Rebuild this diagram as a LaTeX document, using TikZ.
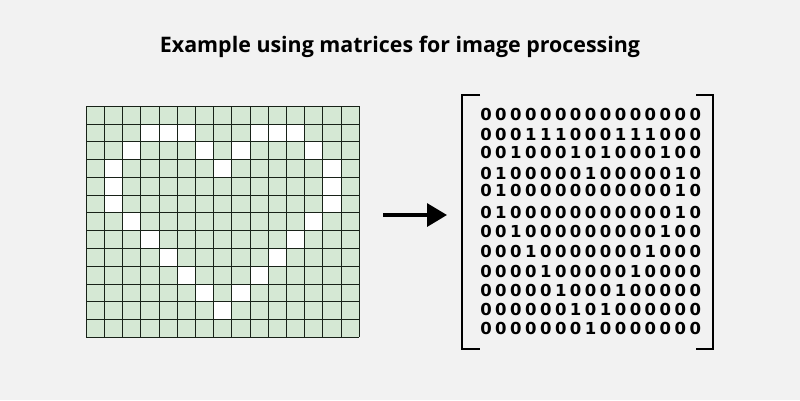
\documentclass[tikz,border=0pt]{standalone}
\usepackage{fontspec}
\setmainfont{Noto Sans}
\newfontfamily\titlefont{Open Sans}
\newfontfamily\digitfont{DejaVu Sans}
\usetikzlibrary{arrows.meta}
\definecolor{bg}{RGB}{242,242,242}
\definecolor{cellgreen}{RGB}{213,232,212}
\definecolor{gridline}{RGB}{24,34,24}
\tikzset{
  titletext/.style={font=\titlefont\fontsize{21.4}{25}\selectfont\bfseries, text=black, inner sep=0pt},
  digit/.style={font=\digitfont\fontsize{16.5}{16.5}\selectfont\bfseries, text=black, inner sep=0pt},
  gridstroke/.style={draw=gridline, line width=1pt},
  bracketstroke/.style={draw=black, line width=2pt},
  bigarrow/.style={draw=black, line width=3.3pt, -{Triangle[length=20pt,width=23pt]}}
}
\begin{document}
\begin{tikzpicture}[x=1pt,y=-1pt]
\fill[bg] (0,0) rectangle (800,400);
\useasboundingbox (0,0) rectangle (800,400);
\node[titletext] (title) at (400,47) {Example using matrices for image processing};
% grid background
\fill[cellgreen] (86.3,106.3) rectangle (359.3,337.3);
\def\rowys{{114,134,152,173,190,212,231,251,271,290,309,328}}
\foreach \row [count=\i from 0] in {
 {0,0,0,0,0,0,0,0,0,0,0,0,0,0,0},
 {0,0,0,1,1,1,0,0,0,1,1,1,0,0,0},
 {0,0,1,0,0,0,1,0,1,0,0,0,1,0,0},
 {0,1,0,0,0,0,0,1,0,0,0,0,0,1,0},
 {0,1,0,0,0,0,0,0,0,0,0,0,0,1,0},
 {0,1,0,0,0,0,0,0,0,0,0,0,0,1,0},
 {0,0,1,0,0,0,0,0,0,0,0,0,1,0,0},
 {0,0,0,1,0,0,0,0,0,0,0,1,0,0,0},
 {0,0,0,0,1,0,0,0,0,0,1,0,0,0,0},
 {0,0,0,0,0,1,0,0,0,1,0,0,0,0,0},
 {0,0,0,0,0,0,1,0,1,0,0,0,0,0,0},
 {0,0,0,0,0,0,0,1,0,0,0,0,0,0,0}} {
  \pgfmathsetmacro\ry{\rowys[\i]}
  \foreach \d [count=\j from 0] in \row {
    \ifnum\d=1
      \fill[white] ({86.3+\j*18.2},{106.3+\i*17.77}) rectangle ++(18.2,17.77);
    \fi
    \node[digit] (m-\i-\j) at ({486+\j*14.95},\ry) {\d};
  }
}
% grid lines
\foreach \k in {0,...,15} \draw[gridstroke] ({86.3+\k*18.2},106.3) -- ({86.3+\k*18.2},337.3);
\foreach \k in {0,...,13} \draw[gridstroke] (86.3,{106.3+\k*17.77}) -- (359.3,{106.3+\k*17.77});
% brackets
\draw[bracketstroke] (480,95) -- (462,95) -- (462,349) -- (480,349);
\draw[bracketstroke] (696,95) -- (713,95) -- (713,349) -- (696,349);
% arrow
\coordinate (arrowstart) at (383,215);
\coordinate (arrowend) at (447,215);
\draw[bigarrow] (arrowstart) -- (arrowend);
\end{tikzpicture}
\end{document}
